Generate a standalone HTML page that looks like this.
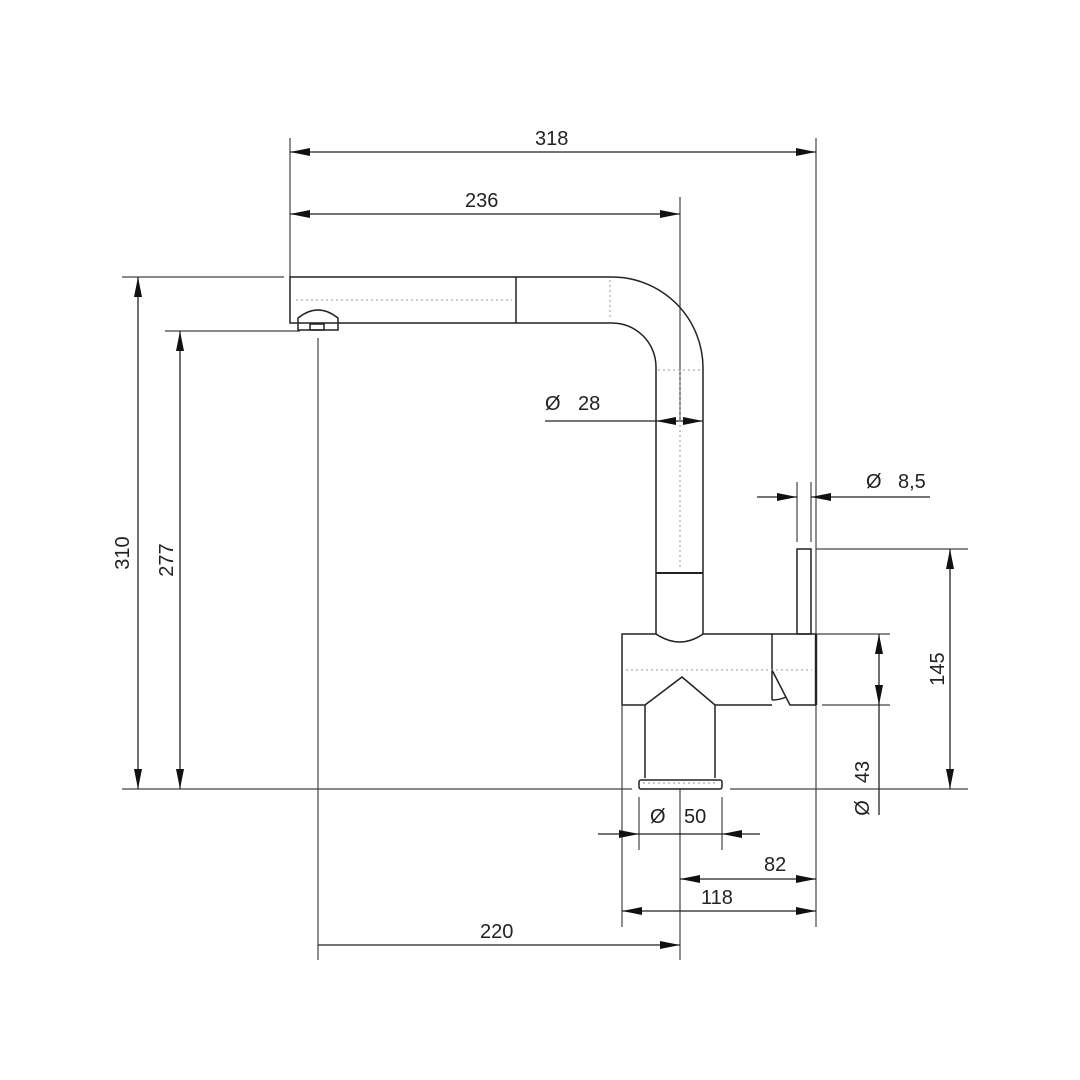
<!DOCTYPE html>
<html><head><meta charset="utf-8"><style>
html,body{margin:0;padding:0;background:#fff}
svg{display:block}
text{font-family:"Liberation Sans",sans-serif;font-size:20px;fill:#222}
</style></head><body>
<svg width="1080" height="1080" viewBox="0 0 1080 1080" xmlns="http://www.w3.org/2000/svg">
<defs>
<marker id="a" viewBox="0 0 20 8" refX="20" refY="4" markerWidth="20" markerHeight="8" markerUnits="userSpaceOnUse" orient="auto-start-reverse">
<path d="M0,0 L20,4 L0,8 Z" fill="#111"/></marker>
</defs>
<g stroke="#444" stroke-width="1.2" fill="none">
<line x1="290" y1="138" x2="290" y2="277"/>
<line x1="680" y1="197" x2="680" y2="420"/>
<line x1="816" y1="138" x2="816" y2="927"/>
<line x1="122" y1="277" x2="284" y2="277"/>
<line x1="165" y1="331" x2="300" y2="331"/>
<line x1="122" y1="789" x2="632" y2="789"/>
<line x1="730" y1="789" x2="968" y2="789"/>
<line x1="816" y1="549" x2="968" y2="549"/>
<line x1="816" y1="634" x2="890" y2="634"/>
<line x1="822" y1="705" x2="890" y2="705"/>
<line x1="318" y1="338" x2="318" y2="960"/>
<line x1="680" y1="789" x2="680" y2="960"/>
<line x1="622" y1="705" x2="622" y2="927"/>
<line x1="639" y1="797" x2="639" y2="850"/>
<line x1="722" y1="797" x2="722" y2="850"/>
<line x1="797" y1="482" x2="797" y2="542"/>
<line x1="811" y1="482" x2="811" y2="542"/>
</g>
<g stroke="#222" stroke-width="1.3" fill="none">
<line x1="290" y1="152" x2="816" y2="152" marker-start="url(#a)" marker-end="url(#a)"/>
<line x1="290" y1="214" x2="680" y2="214" marker-start="url(#a)" marker-end="url(#a)"/>
<line x1="138" y1="277" x2="138" y2="789" marker-start="url(#a)" marker-end="url(#a)"/>
<line x1="180" y1="331" x2="180" y2="789" marker-start="url(#a)" marker-end="url(#a)"/>
<line x1="950" y1="549" x2="950" y2="789" marker-start="url(#a)" marker-end="url(#a)"/>
<line x1="879" y1="634" x2="879" y2="705" marker-start="url(#a)" marker-end="url(#a)"/>
<line x1="879" y1="705" x2="879" y2="815"/>
<line x1="680" y1="879" x2="816" y2="879" marker-start="url(#a)" marker-end="url(#a)"/>
<line x1="622" y1="911" x2="816" y2="911" marker-start="url(#a)" marker-end="url(#a)"/>
<line x1="318" y1="945" x2="680" y2="945" marker-end="url(#a)"/>
<line x1="598" y1="834" x2="639" y2="834" marker-end="url(#a)"/>
<line x1="639" y1="834" x2="722" y2="834"/>
<line x1="760" y1="834" x2="722" y2="834" marker-end="url(#a)"/>
<line x1="545" y1="421" x2="656" y2="421"/>
<line x1="680" y1="421" x2="656" y2="421" marker-end="url(#a)"/>
<line x1="680" y1="421" x2="703" y2="421" marker-end="url(#a)"/>
<line x1="757" y1="497" x2="797" y2="497" marker-end="url(#a)"/>
<line x1="930" y1="497" x2="811" y2="497" marker-end="url(#a)"/>
</g>
<g stroke="#222" stroke-width="1.5" fill="none">
<rect x="290" y="277" width="226" height="46"/>
<path d="M516,277 L612,277 A91,91 0 0 1 703,368 L703,634"/>
<path d="M516,323 L612,323 A44,44 0 0 1 656,367 L656,634"/>
<line x1="656" y1="573" x2="703" y2="573" stroke-width="2"/>
<path d="M298,330 L298,318 Q318,302 338,318 L338,330 Z"/>
<rect x="310" y="324" width="14" height="6"/>
<!-- body -->
<path d="M622,705 L622,634 L656,634 Q680,650 703,634 L816,634"/>
<path d="M622,705 L645,705 L682,677 L715,705 L772,705"/>
<line x1="772" y1="634" x2="772" y2="700"/>
<path d="M772,670 L790,705 L816,705"/>
<line x1="816" y1="634" x2="816" y2="705" stroke-width="2.4"/>
<path d="M772,700 Q780,700 786,697"/>
<path d="M645,778 L645,705 M715,705 L715,778"/>
<rect x="639" y="780" width="83" height="9" rx="2"/>
<rect x="797" y="549" width="14" height="85"/>
</g>
<g stroke="#999" stroke-width="1" stroke-dasharray="2,3" fill="none">
<line x1="296" y1="300" x2="512" y2="300"/>
<line x1="610" y1="280" x2="610" y2="320"/>
<line x1="658" y1="370" x2="701" y2="370"/>
<line x1="680" y1="370" x2="680" y2="570"/>
<line x1="626" y1="670" x2="812" y2="670"/>
<line x1="643" y1="783" x2="718" y2="783"/>
</g>
<text x="535" y="145">318</text>
<text x="465" y="207">236</text>
<text x="545" y="410">Ø</text><text x="578" y="410">28</text>
<text x="866" y="488">Ø</text><text x="898" y="488">8,5</text>
<text x="650" y="823">Ø</text><text x="684" y="823">50</text>
<text x="764" y="871">82</text>
<text x="701" y="904">118</text>
<text x="480" y="938">220</text>
<text transform="translate(129,553) rotate(-90)" text-anchor="middle">310</text>
<text transform="translate(173,560) rotate(-90)" text-anchor="middle">277</text>
<text transform="translate(944,669) rotate(-90)" text-anchor="middle">145</text>
<text transform="translate(869,772) rotate(-90)" text-anchor="middle">43</text>
<text transform="translate(869,808) rotate(-90)" text-anchor="middle">Ø</text>
</svg>
</body></html>
